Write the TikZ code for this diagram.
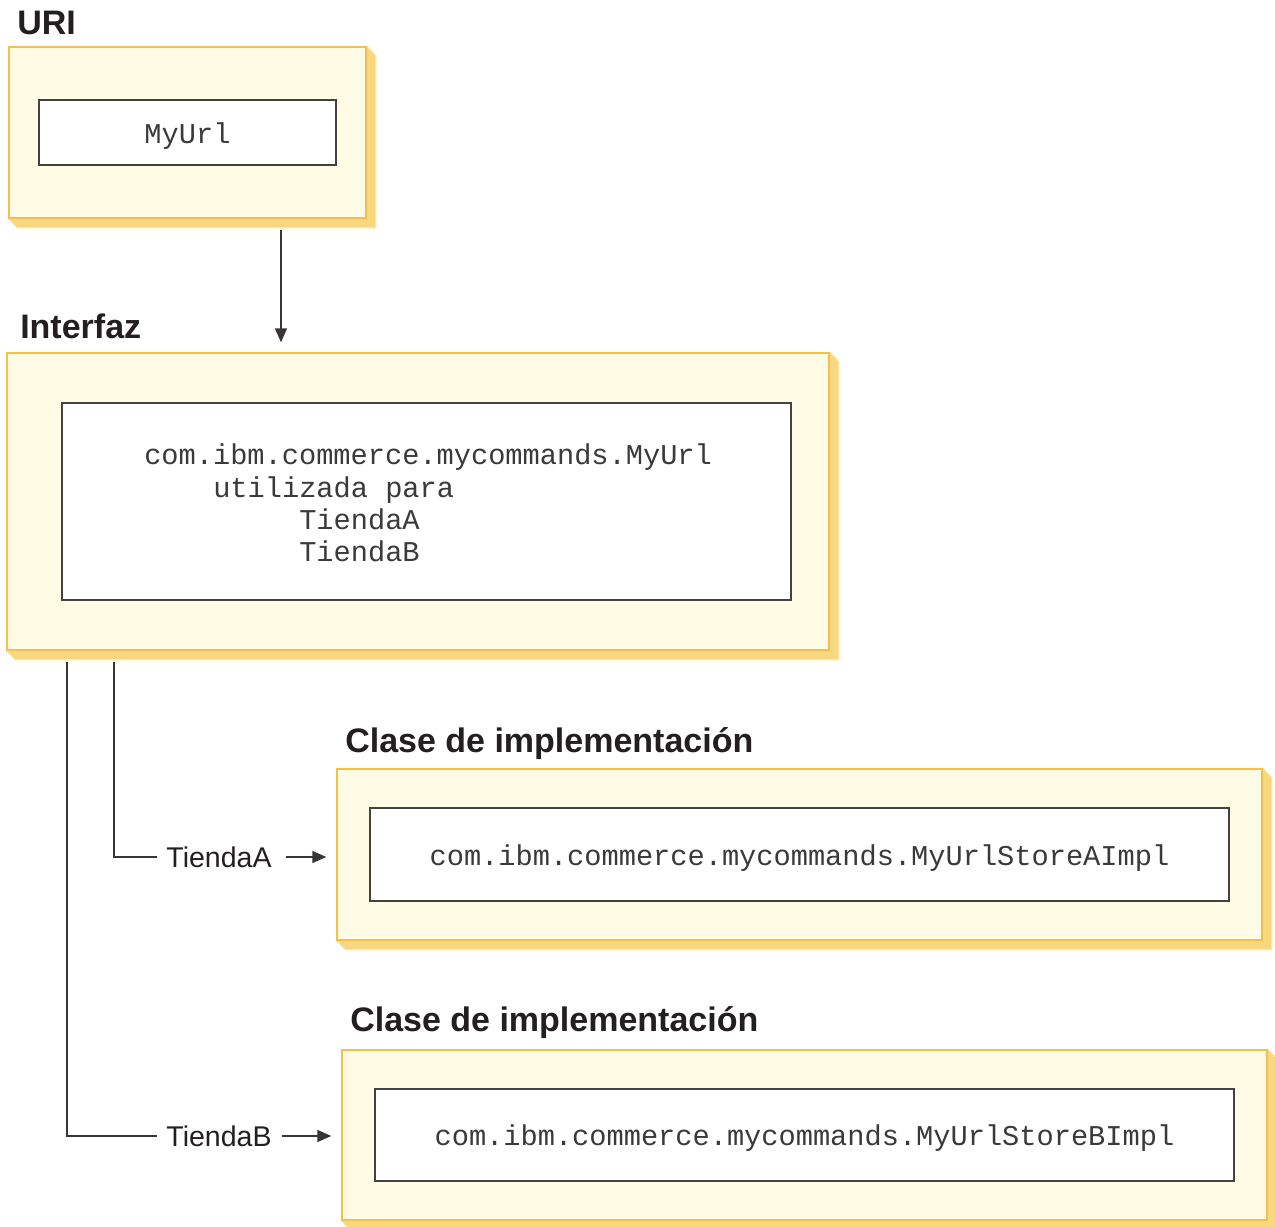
\documentclass[tikz,border=0pt]{standalone}
\usepackage{fontspec}
\setmainfont{Liberation Sans}
\setmonofont{Liberation Mono}
\usetikzlibrary{arrows.meta,calc}
\pgfdeclarelayer{back}
\pgfsetlayers{back,main}
\definecolor{boxfill}{RGB}{255,251,228}
\definecolor{boxedge}{RGB}{246,192,72}
\definecolor{shade}{RGB}{247,216,128}
\definecolor{shadeedge}{RGB}{251,230,165}
\definecolor{ink}{RGB}{35,31,32}
\definecolor{code}{RGB}{58,58,58}
\newcommand\codefont{\ttfamily\fontsize{21.5}{24}\selectfont}
\newcommand\headfont{\bfseries\fontsize{25.5}{30}\selectfont}
\newcommand\labelfont{\fontsize{21.4}{24}\selectfont}
% drop the code text a little while keeping its box size
\newcommand\lowered[1]{\raisebox{-2.5pt}[\height][\depth]{#1}}
% gold bevelled drop shadow behind a panel node
\newcommand\panelshadow[1]{%
  \begin{pgfonlayer}{back}
    \filldraw[fill=shade, draw=shadeedge, line width=0.8pt]
      (#1.north east) -- ++(9,9) -- ($(#1.south east)+(9,9)$)
      -- ($(#1.south west)+(9,9)$) -- (#1.south west) -- cycle;
  \end{pgfonlayer}}
\tikzset{
  panel/.style={draw=boxedge, fill=boxfill, line width=1.1pt, inner sep=0pt},
  slot/.style={draw=ink!85, fill=white, line width=1pt, inner sep=0pt, font=\codefont, text=code},
  heading/.style={anchor=base west, inner sep=0pt, font=\headfont, text=ink},
  codeline/.style={anchor=base west, inner sep=0pt, font=\codefont, text=code},
  storelabel/.style={inner sep=6.75pt, font=\labelfont, text=ink},
  link/.style={draw=ink!90, line width=1.1pt},
  tip/.style={-{Triangle[length=10.5pt,width=9pt]}},
}
\begin{document}
\begin{tikzpicture}[x=0.75pt,y=-0.75pt]
\useasboundingbox (0,0) rectangle (1275,1227);

% URI
\node[heading] (hUri) at (17,35) {URI};
\node[panel, minimum width=267.75pt, minimum height=128.25pt] (uri) at (187.5,132.5) {};
\panelshadow{uri}
\node[slot, minimum width=222.75pt, minimum height=48.75pt] (uriIn) at (187.5,132.5) {\lowered{MyUrl}};

% Interfaz
\node[heading] (hIntf) at (20,338) {Interfaz};
\node[panel, minimum width=616.5pt, minimum height=222.75pt] (intf) at (418,501.5) {};
\panelshadow{intf}
\node[slot, minimum width=546.75pt, minimum height=147.75pt] (intfIn) at (426.5,501.5) {};
\node[codeline] (l1) at (144,464) {com.ibm.commerce.mycommands.MyUrl};
\node[codeline] (l2) at (213,497) {utilizada para};
\node[codeline] (l3) at (299,529) {TiendaA};
\node[codeline] (l4) at (299,561) {TiendaB};

% Implementation A
\node[heading] (hA) at (345,752) {Clase de implementación};
\node[panel, minimum width=693.75pt, minimum height=128.25pt] (implA) at (799.5,854.5) {};
\panelshadow{implA}
\node[slot, minimum width=644.25pt, minimum height=69.75pt] (implAIn) at (799.5,854.5) {\lowered{com.ibm.commerce.mycommands.MyUrlStoreAImpl}};

% Implementation B
\node[heading] (hB) at (350,1031) {Clase de implementación};
\node[panel, minimum width=693.75pt, minimum height=127.5pt] (implB) at (804.5,1135) {};
\panelshadow{implB}
\node[slot, minimum width=644.25pt, minimum height=69pt] (implBIn) at (804.5,1135) {\lowered{com.ibm.commerce.mycommands.MyUrlStoreBImpl}};

% connectors
\coordinate (uriOut) at (281,230);
\draw[link, tip, shorten >=7.5pt] (uriOut) -- (uriOut |- intf.north);

\node[storelabel] (labA) at (219,857) {TiendaA};
\node[storelabel] (labB) at (219,1136) {TiendaB};
\coordinate (outA) at (114,662);
\coordinate (outB) at (67,662);
\draw[link] (outA) |- (labA.west);
\draw[link] (outB) |- (labB.west);
\draw[link, tip, shorten <=3.75pt, shorten >=7.5pt] (labA.east) -- (labA.east -| implA.west);
\draw[link, tip, shorten <=0.75pt, shorten >=7.5pt] (labB.east) -- (labB.east -| implB.west);
\end{tikzpicture}
\end{document}
